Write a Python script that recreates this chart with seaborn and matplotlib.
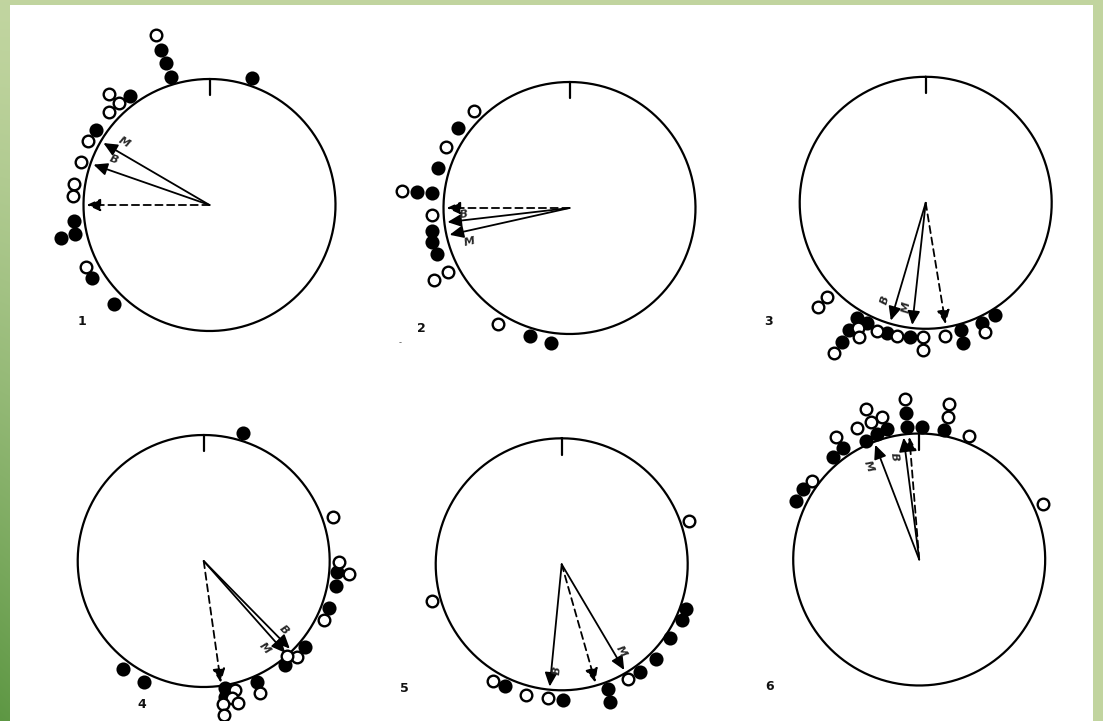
import numpy as np
import pandas as pd
import matplotlib
matplotlib.use("Agg")
import matplotlib.pyplot as plt
from matplotlib.patches import Rectangle
import seaborn as sns

sns.set_theme(style="white")
plt.rcParams['font.family'] = ['DejaVu Sans']

# ---------------- data: compass angles (deg, clockwise from top) and radial distance (circle radius = 1)
P1_FILLED_ANGLE = [342.8, 343.1, 343.3, 18.6, 324.0, 303.2, 263.2, 257.6, 257.8, 238.2, 224.0]
P1_FILLED_RADIUS = [1.29, 1.18, 1.06, 1.06, 1.07, 1.08, 1.08, 1.205, 1.095, 1.095, 1.095]
P1_OPEN_ANGLE = [342.6, 317.9, 318.4, 312.9, 297.7, 288.6, 278.7, 273.8, 243.4]
P1_OPEN_RADIUS = [1.41, 1.19, 1.085, 1.085, 1.09, 1.075, 1.085, 1.085, 1.095]
P1_ARROWS = {"M": 300.3, "B": 289.2, "D": 270.0}

P2_FILLED_ANGLE = [305.5, 287.0, 275.9, 276.1, 260.5, 256.2, 250.9, 197.1, 187.7]
P2_FILLED_RADIUS = [1.09, 1.09, 1.215, 1.10, 1.11, 1.12, 1.115, 1.065, 1.08]
P2_OPEN_ANGLE = [315.7, 296.2, 275.8, 267.1, 242.4, 241.9, 211.9]
P2_OPEN_RADIUS = [1.08, 1.09, 1.335, 1.095, 1.09, 1.215, 1.08]
P2_ARROWS = {"M": 257.4, "B": 263.4, "D": 270.0}

P3_FILLED_ANGLE = [210.9, 206.1, 210.9, 211.2, 196.7, 186.7, 164.6, 165.2, 155.0, 148.3]
P3_FILLED_RADIUS = [1.068, 1.065, 1.18, 1.288, 1.076, 1.07, 1.047, 1.153, 1.05, 1.047]
P3_OPEN_ANGLE = [226.0, 226.3, 208.5, 206.4, 211.5, 201.0, 192.1, 181.0, 181.2, 171.7, 155.4]
P3_OPEN_RADIUS = [1.186, 1.086, 1.13, 1.186, 1.40, 1.087, 1.078, 1.067, 1.168, 1.066, 1.13]
P3_ARROWS = {"M": 186.3, "B": 196.5, "D": 170.7}

P4_FILLED_ANGLE = [17.2, 94.6, 100.7, 110.6, 130.2, 142.0, 156.0, 217.0, 206.2, 170.5, 171.1]
P4_FILLED_RADIUS = [1.061, 1.059, 1.068, 1.065, 1.053, 1.048, 1.048, 1.07, 1.067, 1.024, 1.09]
P4_OPEN_ANGLE = [71.1, 90.3, 95.1, 116.1, 135.8, 138.6, 156.9, 166.4, 168.5, 172.2, 166.3, 172.5]
P4_OPEN_RADIUS = [1.083, 1.076, 1.16, 1.063, 1.059, 1.0, 1.137, 1.053, 1.112, 1.145, 1.158, 1.233]
P4_ARROWS = {"M": 138.4, "B": 135.5, "D": 172.0}

P5_FILLED_ANGLE = [109.9, 114.9, 124.3, 135.1, 143.9, 159.8, 160.6, 179.6, 205.0]
P5_FILLED_RADIUS = [1.049, 1.05, 1.041, 1.057, 1.055, 1.057, 1.156, 1.077, 1.066]
P5_OPEN_ANGLE = [71.1, 254.2, 149.9, 185.7, 195.3, 210.4]
P5_OPEN_RADIUS = [1.07, 1.072, 1.055, 1.069, 1.075, 1.071]
P5_ARROWS = {"M": 149.4, "B": 185.6, "D": 164.1}

P6_FILLED_ANGLE = [354.9, 354.6, 1.1, 10.8, 346.2, 341.3, 335.8, 325.7, 320.1, 301.2, 295.4]
P6_FILLED_RADIUS = [1.17, 1.059, 1.054, 1.047, 1.064, 1.049, 1.031, 1.068, 1.063, 1.08, 1.083]
P6_OPEN_ANGLE = [354.9, 11.0, 11.6, 22.0, 340.5, 345.2, 340.6, 334.7, 325.8, 306.1, 65.9]
P6_OPEN_RADIUS = [1.279, 1.255, 1.152, 1.06, 1.267, 1.167, 1.16, 1.152, 1.173, 1.056, 1.074]
P6_ARROWS = {"M": 339.0, "B": 352.7, "D": 355.4}

PANEL_LABELS = ["1", "2", "3", "4", "5", "6"]

# ---------------- layout (pixels)
W, H = 1103, 721
CENTERS = [(209.5, 205), (569.5, 208), (925.7, 202.8),
           (203.7, 561), (561.7, 564.3), (919.2, 559.5)]
R_PX = 126.0
RMAX = 1.5
LABEL_OFFSETS = [(5.8, 6.3), (-5.8, 2.9), (4.2, 6.2), (6.7, -4.8), (-3.9, -3.0), (-7.3, -6.4)]
NUMBER_POS = [(81.7, 321.7), (421.7, 328.3), (768.3, 321.7),
              (141.7, 705), (404, 688), (770, 687)]

panels = [
    (P1_FILLED_ANGLE, P1_FILLED_RADIUS, P1_OPEN_ANGLE, P1_OPEN_RADIUS, P1_ARROWS),
    (P2_FILLED_ANGLE, P2_FILLED_RADIUS, P2_OPEN_ANGLE, P2_OPEN_RADIUS, P2_ARROWS),
    (P3_FILLED_ANGLE, P3_FILLED_RADIUS, P3_OPEN_ANGLE, P3_OPEN_RADIUS, P3_ARROWS),
    (P4_FILLED_ANGLE, P4_FILLED_RADIUS, P4_OPEN_ANGLE, P4_OPEN_RADIUS, P4_ARROWS),
    (P5_FILLED_ANGLE, P5_FILLED_RADIUS, P5_OPEN_ANGLE, P5_OPEN_RADIUS, P5_ARROWS),
    (P6_FILLED_ANGLE, P6_FILLED_RADIUS, P6_OPEN_ANGLE, P6_OPEN_RADIUS, P6_ARROWS),
]

fig = plt.figure(figsize=(W / 100, H / 100), dpi=100)

# ---------------- background frame with green gradient
bg = fig.add_axes([0, 0, 1, 1])
yy, xx = np.mgrid[0:H, 0:W]
t = (yy / H) ** 1.3 * np.clip(1 - xx / (W * 0.5), 0, 1)
light = np.array([0.757, 0.835, 0.627])
dark = np.array([0.365, 0.592, 0.263])
img = light[None, None, :] * (1 - t[..., None]) + dark[None, None, :] * t[..., None]
bg.imshow(img, extent=[0, W, H, 0], aspect='auto', interpolation='bilinear')
bg.add_patch(Rectangle((10, 5), 1083, 716, facecolor='white', edgecolor='none'))
bg.set_xlim(0, W)
bg.set_ylim(H, 0)
bg.axis('off')

head = '-|>,head_length=0.55,head_width=0.25'

for i, (fa, fr, oa, orr, arrows) in enumerate(panels):
    cx, cy = CENTERS[i]
    half = R_PX * RMAX
    ax = fig.add_axes([(cx - half) / W, (H - cy - half) / H, 2 * half / W, 2 * half / H],
                      projection='polar')
    ax.set_theta_zero_location('N')
    ax.set_theta_direction(-1)
    ax.set_ylim(0, RMAX)
    ax.axis('off')
    ax.patch.set_alpha(0)

    th = np.linspace(0, 2 * np.pi, 400)
    ax.plot(th, np.ones_like(th), color='black', lw=1.6, zorder=2)
    ax.plot([0, 0], [0.87, 1.0], color='black', lw=1.6, zorder=2)

    for key in ["M", "B", "D"]:
        a = np.radians(arrows[key])
        dashed = key == "D"
        ax.annotate('', xy=(a, 0.975), xytext=(0, 0), xycoords='data',
                    arrowprops=dict(arrowstyle=head, lw=1.3, color='black',
                                    linestyle=(0, (4, 2.5)) if dashed else '-',
                                    shrinkA=0, shrinkB=0, mutation_scale=15),
                    zorder=3, annotation_clip=False)

    for j, key in enumerate(["M", "B"]):
        ang = arrows[key] + LABEL_OFFSETS[i][j]
        math_ang = 90 - arrows[key]
        rot = (math_ang + 180) % 360 - 180
        if rot > 90:
            rot -= 180
        elif rot <= -90:
            rot += 180
        ax.text(np.radians(ang), 0.84, key, fontsize=8, fontstyle='italic', fontweight='bold',
                rotation=rot, ha='center', va='center', rotation_mode='anchor', zorder=4)

    fdf = pd.DataFrame({"theta": np.radians(fa), "r": fr})
    odf = pd.DataFrame({"theta": np.radians(oa), "r": orr})
    sns.scatterplot(data=fdf, x="theta", y="r", ax=ax, color='black', edgecolor='black',
                    s=80, linewidth=1.2, zorder=5, clip_on=False, legend=False)
    sns.scatterplot(data=odf, x="theta", y="r", ax=ax, color='white', edgecolor='black',
                    s=70, linewidth=1.7, zorder=5, clip_on=False, legend=False)
    ax.set_xlabel('')
    ax.set_ylabel('')
    ax.axis('off')

    nx, ny = NUMBER_POS[i]
    fig.text(nx / W, 1 - ny / H, PANEL_LABELS[i], fontsize=9, fontweight='bold',
             ha='center', va='center', color='#111111')

fig.text(400 / W, 1 - 343 / H, '-', fontsize=6, color='#555555', ha='center', va='center')

fig.savefig('out.png', dpi=100)
